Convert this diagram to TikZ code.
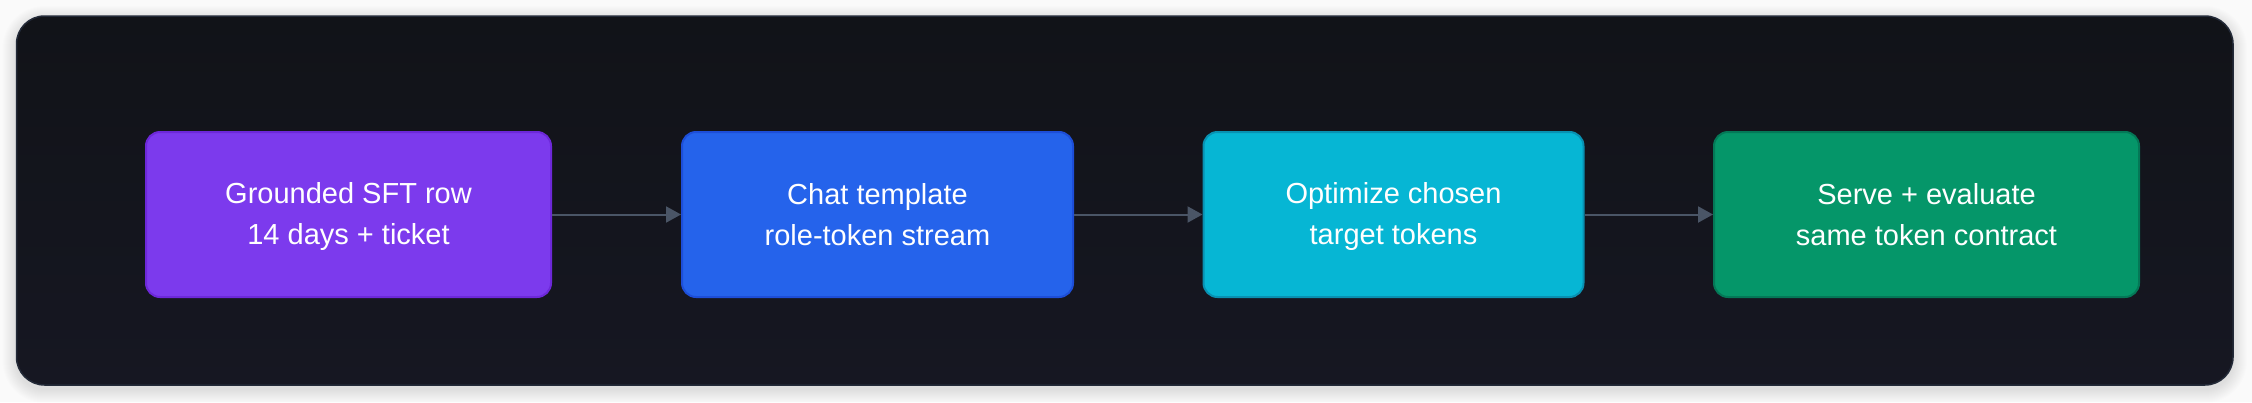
\documentclass[tikz,border=0pt]{standalone}
\usepackage{fontspec}
\setmainfont{Liberation Sans}
\usetikzlibrary{arrows.meta}
\definecolor{pagebg}{HTML}{FAFAFA}
\definecolor{frametop}{HTML}{111318}
\definecolor{framebot}{HTML}{161722}
\definecolor{frameline}{HTML}{232A38}
\definecolor{arrowc}{HTML}{4A5566}
\definecolor{violetf}{HTML}{7C3AED}\definecolor{violetd}{HTML}{6D28D9}
\definecolor{bluef}{HTML}{2563EB}\definecolor{blued}{HTML}{1D4ED8}
\definecolor{cyanf}{HTML}{06B6D4}\definecolor{cyand}{HTML}{0891B2}
\definecolor{greenf}{HTML}{059669}\definecolor{greend}{HTML}{047857}
\newcommand{\lnstrut}{\rule[-6pt]{0pt}{32pt}}
\tikzset{
  stagebox/.style={rectangle, rounded corners=14pt, line width=2pt,
    minimum height=165pt, inner sep=0pt, align=center, text=white,
    font=\fontsize{29}{41}\selectfont},
  flowarrow/.style={draw=arrowc, line width=2pt,
    -{Triangle[length=15pt,width=16pt]}},
}
\begin{document}
\begin{tikzpicture}[x=1pt,y=-1pt]
  \useasboundingbox (0,0) rectangle (2252,402);
  \fill[pagebg] (0,0) rectangle (2252,402);
  % soft shadow of the frame
  \foreach \i in {1,...,14}{
    \fill[black, opacity=0.007, rounded corners={28pt+\i pt}]
      (16.5-\i,16+4-\i) rectangle (2233+\i,385+4+\i);
  }
  \shade[rounded corners=28pt, top color=frametop, bottom color=framebot,
         draw=frameline, line width=1.5pt]
    (16.5,16) rectangle (2233,385);
  % stages
  \node[stagebox, fill=violetf, draw=violetd, minimum width=405pt] (b1) at (348.5,214.5)
    {\lnstrut Grounded SFT row\\\lnstrut 14 days + ticket};
  \node[stagebox, fill=bluef, draw=blued, minimum width=391pt] (b2) at (877.5,214.5)
    {\lnstrut Chat template\\\lnstrut role-token stream};
  \node[stagebox, fill=cyanf, draw=cyand, minimum width=380pt] (b3) at (1393.5,214.5)
    {\lnstrut Optimize chosen\\\lnstrut target tokens};
  \node[stagebox, fill=greenf, draw=greend, minimum width=425pt] (b4) at (1926.5,214.5)
    {\lnstrut Serve + evaluate\\\lnstrut same token contract};
  % connectors
  \draw[flowarrow] (b1.east) -- (b2.west);
  \draw[flowarrow] (b2.east) -- (b3.west);
  \draw[flowarrow] (b3.east) -- (b4.west);
\end{tikzpicture}
\end{document}
